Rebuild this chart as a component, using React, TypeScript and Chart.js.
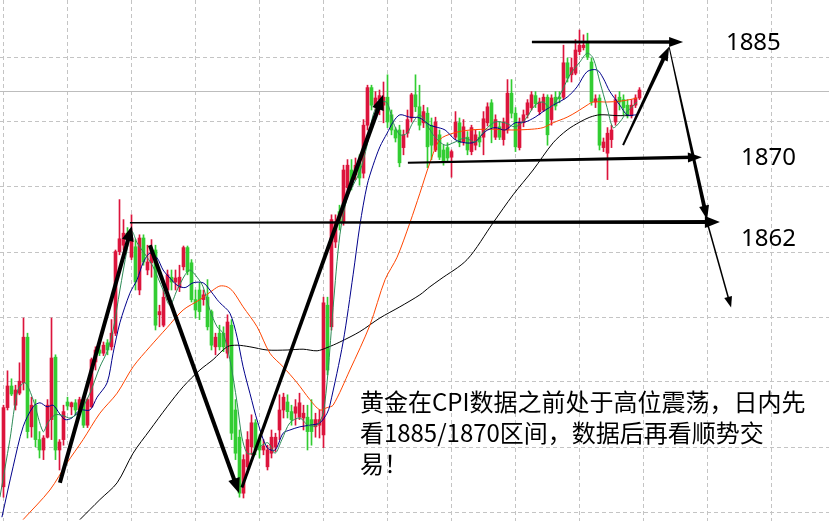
import React, { useEffect, useRef } from "react";
import { Chart, registerables } from "chart.js";

Chart.register(...registerables);

// ---- candle data (XAUUSD, price) ----
const OPEN = [
  1829.4, 1839.3, 1842.0, 1839.6, 1841.1, 1842.4, 1848.1, 1836.9, 1839.6, 1835.3,
  1834.0, 1835.6, 1837.8, 1845.6, 1834.0, 1835.3, 1840.0, 1839.4, 1839.9, 1839.0,
  1840.3, 1837.1, 1839.4, 1845.0, 1846.5, 1846.1, 1847.4, 1846.9, 1848.6, 1858.8,
  1859.6, 1861.1, 1858.1, 1859.4, 1854.0, 1860.5, 1856.5, 1857.4, 1859.0, 1850.9,
  1849.6, 1854.0, 1855.6, 1855.0, 1854.3, 1856.9, 1859.3, 1857.4, 1852.8, 1854.0,
  1852.8, 1853.1, 1851.3, 1846.9, 1848.6, 1848.6, 1846.1, 1849.6, 1839.0, 1835.6,
  1828.6, 1831.9, 1834.4, 1837.4, 1835.3, 1834.0, 1831.9, 1833.6, 1834.4, 1836.5,
  1839.0, 1840.0, 1838.8, 1838.6, 1838.1, 1838.0, 1838.1, 1837.8, 1836.9, 1837.1,
  1835.9, 1852.1, 1849.4, 1860.0, 1863.8, 1862.5, 1866.8, 1869.0, 1868.4, 1869.9,
  1868.6, 1874.6, 1879.3, 1877.1, 1877.8, 1877.1, 1878.1, 1875.9, 1874.0, 1874.0,
  1871.8, 1873.6, 1875.5, 1878.4, 1876.9, 1874.9, 1876.1, 1874.6, 1871.5, 1873.4,
  1871.5, 1871.8, 1870.6, 1873.1, 1874.9, 1872.5, 1873.1, 1871.3, 1872.1, 1873.1,
  1873.1, 1874.9, 1877.4, 1873.1, 1874.4, 1872.8, 1874.0, 1878.6, 1876.1, 1871.8,
  1874.9, 1875.9, 1876.8, 1878.3, 1876.3, 1876.5, 1878.1, 1875.3, 1878.1, 1878.1,
  1878.1, 1882.4, 1880.9, 1881.1, 1883.8, 1884.3, 1884.9, 1882.5, 1877.5, 1878.0,
  1871.8, 1871.1, 1872.8, 1875.0, 1878.1, 1877.8, 1877.1, 1875.9, 1877.1, 1878.0,
];
const HIGH = [
  1839.6, 1843.9, 1842.9, 1842.1, 1844.9, 1850.5, 1848.6, 1840.6, 1840.3, 1836.3,
  1835.8, 1840.3, 1850.5, 1845.9, 1835.3, 1839.6, 1840.6, 1840.0, 1840.3, 1840.6,
  1840.6, 1840.5, 1845.5, 1846.9, 1847.0, 1847.5, 1847.8, 1850.3, 1859.0, 1865.3,
  1862.8, 1861.8, 1863.4, 1860.3, 1860.9, 1860.9, 1859.6, 1860.3, 1859.6, 1852.1,
  1854.0, 1856.5, 1856.5, 1856.5, 1857.1, 1859.5, 1859.5, 1857.8, 1854.0, 1854.9,
  1854.0, 1855.3, 1851.5, 1848.6, 1849.6, 1849.4, 1850.9, 1850.3, 1840.3, 1836.5,
  1833.4, 1836.3, 1838.4, 1837.8, 1835.9, 1835.3, 1834.6, 1836.5, 1836.1, 1840.9,
  1841.1, 1840.9, 1839.6, 1840.3, 1841.1, 1839.6, 1839.6, 1840.3, 1838.6, 1839.0,
  1853.1, 1853.1, 1863.4, 1863.4, 1864.6, 1869.6, 1870.3, 1870.3, 1870.5, 1870.9,
  1875.3, 1879.6, 1879.6, 1878.8, 1879.0, 1880.0, 1880.9, 1876.5, 1874.3, 1874.6,
  1874.0, 1876.5, 1878.6, 1880.9, 1879.6, 1877.1, 1876.8, 1875.5, 1875.6, 1874.0,
  1872.1, 1872.4, 1871.5, 1876.3, 1875.5, 1875.3, 1873.8, 1874.6, 1874.0, 1873.8,
  1876.3, 1877.4, 1877.8, 1875.9, 1875.0, 1875.5, 1880.3, 1880.3, 1876.8, 1875.5,
  1876.5, 1877.8, 1878.8, 1878.8, 1878.0, 1878.5, 1878.4, 1878.4, 1878.8, 1878.8,
  1884.6, 1883.0, 1883.0, 1885.3, 1886.5, 1885.9, 1886.1, 1883.0, 1878.4, 1878.4,
  1873.0, 1874.3, 1874.6, 1878.4, 1878.8, 1878.4, 1877.8, 1877.8, 1878.4, 1879.3,
];
const LOW = [
  1828.1, 1839.0, 1840.8, 1839.0, 1840.9, 1841.5, 1835.5, 1835.6, 1834.4, 1833.0,
  1832.8, 1835.5, 1835.3, 1832.8, 1831.5, 1834.6, 1839.0, 1838.4, 1838.4, 1838.8,
  1836.8, 1836.8, 1839.3, 1844.0, 1845.8, 1845.8, 1845.9, 1846.5, 1848.3, 1858.4,
  1859.0, 1859.8, 1857.8, 1854.0, 1853.4, 1857.1, 1855.9, 1855.6, 1849.0, 1849.4,
  1849.4, 1852.8, 1854.0, 1854.0, 1853.8, 1856.5, 1855.9, 1852.5, 1850.5, 1850.3,
  1852.1, 1849.0, 1846.5, 1845.9, 1846.5, 1846.3, 1845.5, 1835.3, 1832.8, 1828.1,
  1828.0, 1831.5, 1833.4, 1833.4, 1833.0, 1833.4, 1831.5, 1833.0, 1833.8, 1835.3,
  1838.0, 1838.0, 1837.1, 1837.1, 1837.8, 1836.5, 1834.0, 1834.6, 1835.6, 1835.5,
  1834.3, 1843.4, 1849.0, 1859.3, 1861.5, 1862.1, 1866.3, 1866.5, 1867.8, 1867.1,
  1868.0, 1874.0, 1876.5, 1876.5, 1875.9, 1874.9, 1874.3, 1873.4, 1872.5, 1869.4,
  1870.9, 1873.1, 1875.0, 1876.3, 1874.0, 1874.3, 1869.3, 1870.3, 1871.3, 1870.3,
  1869.6, 1870.0, 1868.1, 1872.8, 1871.9, 1872.1, 1870.9, 1870.9, 1871.5, 1871.9,
  1870.9, 1874.5, 1872.4, 1872.8, 1872.8, 1872.1, 1873.6, 1875.5, 1871.3, 1871.5,
  1874.4, 1875.5, 1876.5, 1876.8, 1875.9, 1876.3, 1872.1, 1874.6, 1876.5, 1877.4,
  1877.8, 1880.0, 1880.0, 1880.9, 1883.4, 1884.0, 1882.8, 1877.1, 1876.8, 1871.5,
  1871.3, 1867.8, 1871.8, 1874.6, 1876.5, 1875.9, 1875.5, 1875.5, 1876.8, 1877.8,
];
const CLOSE = [
  1839.3, 1842.0, 1841.0, 1841.5, 1842.6, 1848.1, 1836.3, 1839.6, 1835.3, 1834.0,
  1835.5, 1839.6, 1845.5, 1834.0, 1835.0, 1838.8, 1839.5, 1839.9, 1839.0, 1840.3,
  1837.1, 1840.3, 1845.3, 1846.5, 1846.1, 1847.1, 1846.5, 1848.6, 1858.8, 1860.4,
  1861.1, 1860.3, 1860.5, 1855.0, 1860.5, 1857.5, 1857.5, 1859.0, 1849.6, 1851.3,
  1853.1, 1855.9, 1855.0, 1855.5, 1855.6, 1859.3, 1856.3, 1852.8, 1851.5, 1851.3,
  1853.4, 1849.4, 1847.1, 1848.1, 1846.9, 1846.9, 1850.0, 1836.1, 1833.6, 1828.6,
  1832.8, 1835.3, 1837.4, 1834.0, 1834.0, 1834.5, 1834.0, 1835.6, 1835.6, 1839.0,
  1840.6, 1838.8, 1837.8, 1839.4, 1839.9, 1838.6, 1836.3, 1836.3, 1837.8, 1837.8,
  1852.4, 1844.0, 1862.8, 1862.5, 1862.5, 1869.0, 1869.6, 1867.1, 1869.6, 1868.0,
  1874.6, 1879.3, 1877.1, 1878.0, 1878.3, 1878.1, 1875.0, 1874.0, 1873.0, 1869.9,
  1873.4, 1875.3, 1878.4, 1876.9, 1874.6, 1876.3, 1871.9, 1872.1, 1875.0, 1870.6,
  1870.0, 1870.5, 1871.3, 1875.0, 1872.4, 1874.4, 1871.5, 1874.3, 1873.4, 1872.5,
  1875.4, 1876.9, 1874.3, 1875.3, 1873.1, 1875.0, 1878.6, 1876.1, 1871.9, 1874.9,
  1875.9, 1877.4, 1878.4, 1877.3, 1877.5, 1878.1, 1873.4, 1878.0, 1877.0, 1877.9,
  1882.4, 1880.5, 1881.8, 1884.0, 1884.6, 1884.6, 1883.1, 1877.5, 1877.9, 1872.1,
  1872.5, 1873.6, 1874.0, 1877.8, 1877.5, 1876.8, 1875.9, 1877.1, 1878.0, 1879.0,
];

// ---- moving averages: [candle index, price] ----
const MA_FAST = [
  [-0.9, 1828.1], [1.6, 1835.3], [3.6, 1841.5], [5.4, 1842.4], [7.4, 1840.3], [9.9, 1836.3],
  [11.1, 1837.4], [12.9, 1838.4], [14.9, 1838.3], [16.6, 1838.0], [19.1, 1838.8], [21.6, 1841.1],
  [24.1, 1844.4], [25.9, 1846.3], [27.4, 1849.0], [29.1, 1854.0], [30.9, 1859.0], [32.1, 1861.3],
  [33.4, 1859.9], [34.6, 1859.0], [35.9, 1858.1], [37.4, 1856.9], [39.9, 1854.0], [41.6, 1852.1],
  [43.4, 1854.0], [45.4, 1855.9], [46.6, 1856.5], [48.4, 1855.6], [49.9, 1854.4], [51.6, 1851.5],
  [53.4, 1849.4], [54.9, 1848.6], [56.6, 1845.3], [58.4, 1839.9], [59.6, 1835.6], [60.9, 1833.6],
  [62.4, 1833.6], [64.1, 1834.4], [66.1, 1834.9], [67.9, 1833.6], [69.6, 1835.3], [71.6, 1837.4],
  [74.1, 1838.0], [76.1, 1837.1], [78.4, 1837.1], [79.9, 1838.6], [81.1, 1843.6], [82.4, 1851.8],
  [84.1, 1860.9], [85.9, 1865.5], [87.4, 1867.1], [89.1, 1868.8], [90.9, 1872.1], [92.4, 1875.9],
  [94.1, 1877.5], [95.9, 1877.4], [97.4, 1875.0], [99.1, 1873.4], [100.9, 1873.6], [102.4, 1875.0],
  [104.1, 1875.9], [105.9, 1874.6], [107.9, 1873.1], [110.4, 1872.1], [112.9, 1872.5], [115.4, 1873.0],
  [117.9, 1872.5], [120.4, 1874.0], [122.9, 1875.0], [125.4, 1874.9], [127.9, 1874.4], [130.4, 1875.3],
  [132.9, 1877.1], [134.9, 1877.5], [136.6, 1876.8], [139.1, 1878.4], [141.6, 1880.9], [144.1, 1882.5],
  [145.9, 1883.6], [147.4, 1883.0], [149.1, 1880.0], [150.9, 1876.8], [152.4, 1874.3], [154.1, 1875.0],
  [155.9, 1876.3], [158.4, 1877.5],
];
const MA_MID = [
  [-0.4, 1825.6], [2.4, 1831.9], [4.9, 1836.9], [7.4, 1839.4], [9.1, 1839.9], [10.9, 1839.4],
  [12.4, 1839.6], [14.1, 1838.5], [15.4, 1837.8], [17.1, 1838.0], [19.1, 1839.0], [21.6, 1839.0],
  [23.4, 1840.6], [25.9, 1842.4], [27.4, 1846.1], [29.1, 1849.9], [31.6, 1853.6], [33.4, 1855.3],
  [34.9, 1857.4], [36.6, 1858.6], [38.4, 1858.0], [39.9, 1856.5], [41.6, 1855.5], [43.4, 1854.6],
  [45.4, 1854.3], [47.4, 1854.9], [49.9, 1854.9], [51.6, 1854.0], [53.4, 1852.8], [54.1, 1852.4],
  [56.6, 1851.1], [58.4, 1848.1], [59.9, 1844.4], [61.6, 1841.1], [63.6, 1837.4], [65.9, 1834.3],
  [67.9, 1834.0], [69.9, 1836.1], [71.6, 1836.5], [74.1, 1836.9], [76.6, 1837.1], [79.1, 1837.4],
  [80.9, 1838.6], [81.6, 1839.6], [84.9, 1847.5], [87.4, 1855.9], [89.1, 1862.1], [90.9, 1867.1],
  [92.4, 1869.6], [94.1, 1871.9], [95.9, 1873.6], [97.4, 1875.0], [99.1, 1875.9], [101.6, 1875.6],
  [104.1, 1875.5], [106.6, 1874.6], [107.9, 1874.4], [110.4, 1874.0], [112.9, 1872.8], [115.4, 1872.4],
  [117.9, 1872.5], [120.4, 1873.8], [122.9, 1874.3], [125.4, 1874.0], [127.9, 1874.9], [130.4, 1875.0],
  [132.9, 1875.6], [134.9, 1876.3], [137.4, 1877.1], [140.9, 1878.1], [143.4, 1879.4], [145.9, 1881.3],
  [148.4, 1881.5], [149.9, 1880.5], [151.6, 1878.8], [154.1, 1877.1], [155.9, 1875.9], [158.4, 1875.9],
];
const MA_SLOW = [
  [4.9, 1825.3], [11.6, 1829.0], [15.9, 1832.4], [19.9, 1835.3], [24.1, 1838.6], [28.4, 1841.1],
  [32.4, 1844.4], [36.6, 1846.9], [40.9, 1849.3], [44.9, 1851.5], [49.1, 1852.8], [52.4, 1854.0],
  [54.1, 1854.5], [55.9, 1854.4], [57.4, 1853.8], [59.9, 1851.9], [63.4, 1849.4], [66.6, 1846.1],
  [69.9, 1844.4], [73.4, 1842.4], [76.6, 1840.3], [79.1, 1839.0], [80.9, 1839.3], [82.4, 1839.6],
  [86.6, 1844.0], [91.6, 1849.6], [95.4, 1855.3], [98.4, 1858.1], [101.6, 1862.4], [104.1, 1866.1],
  [106.6, 1869.9], [109.1, 1872.8], [112.4, 1873.6], [116.6, 1874.0], [122.1, 1874.1], [127.1, 1874.0],
  [132.1, 1874.1], [134.9, 1874.3], [137.4, 1874.9], [140.9, 1875.6], [143.4, 1876.3], [145.9, 1877.1],
  [147.4, 1877.5], [150.9, 1877.5], [154.1, 1877.6], [156.6, 1877.8], [158.4, 1878.0],
];
const MA_LONG = [
  [19.1, 1825.3], [24.1, 1827.8], [28.4, 1829.9], [32.4, 1833.6], [36.6, 1836.5], [40.9, 1839.4],
  [44.9, 1841.9], [49.1, 1844.0], [52.4, 1845.3], [55.9, 1846.9], [58.4, 1847.1], [61.6, 1846.9],
  [65.9, 1846.5], [70.9, 1846.5], [74.9, 1846.6], [78.4, 1846.4], [80.9, 1846.8], [84.1, 1847.5],
  [89.1, 1848.8], [94.1, 1850.5], [99.1, 1851.9], [104.1, 1853.4], [106.6, 1854.4], [109.1, 1855.3],
  [115.9, 1857.8], [122.4, 1862.4], [127.4, 1865.9], [132.4, 1869.0], [137.4, 1872.4], [140.9, 1874.0],
  [144.1, 1875.0], [146.6, 1875.6], [149.1, 1875.9], [153.4, 1875.8], [157.4, 1875.8],
];

// current price line and grid levels
const PRICE_LINE = 1878.8;
const GRID_X = [0, 16, 32, 48, 64, 80, 96, 112, 128, 144, 160, 176, 192];
const GRID_Y = [1826.25, 1834.375, 1842.5, 1850.625, 1858.75, 1866.875, 1875, 1883.125];

// hand-drawn arrows: [x1, price1, x2, price2, startWidth, endWidth, headLen, headHalf]
const ARROWS = [
  [14.1, 1829.9, 32.1, 1862.0, 4, 4, 15, 6],
  [31.6, 1862.4, 179.1, 1862.5, 1.5, 4, 15, 6],
  [36.6, 1859.6, 58.9, 1828.6, 4, 4, 15, 6],
  [59.6, 1829.3, 94.9, 1878.4, 3, 4.5, 15, 6],
  [132.1, 1885.0, 169.9, 1885.0, 2.5, 3.5, 14, 5],
  [101.1, 1869.9, 174.6, 1870.6, 2, 3.5, 14, 5],
  [154.9, 1872.1, 166.4, 1884.4, 2, 4, 14, 5],
  [166.4, 1884.4, 175.9, 1862.8, 1, 4, 14, 5],
  [175.9, 1862.5, 181.9, 1851.8, 1.5, 1.5, 11, 4],
];

const LEVEL_LABELS = [
  { text: "1885", x: 180.6, y: 1884.9 },
  { text: "1870", x: 184.4, y: 1870.5 },
  { text: "1862", x: 184.4, y: 1860.4 },
];
const NOTE_LINES = [
  "黄金在CPI数据之前处于高位震荡，日内先",
  "看1885/1870区间，数据后再看顺势交",
  "易！",
];
const NOTE_ANCHOR = { x: 89.1, y: 1840.0 };

const X_MIN = -0.875;
const X_MAX = 206.375;
const Y_MIN = 1825.125;
const Y_MAX = 1890.25;

const UP = "#DC143C";
const DOWN = "#32CD32";

function drawArrow(ctx: CanvasRenderingContext2D, x1: number, y1: number, x2: number, y2: number,
  w1: number, w2: number, headLen: number, headHalf: number) {
  const dx = x2 - x1, dy = y2 - y1;
  const len = Math.hypot(dx, dy);
  const ux = dx / len, uy = dy / len;
  const nx = -uy, ny = ux;
  const ex = x2 - ux * headLen * 0.6, ey = y2 - uy * headLen * 0.6;
  ctx.beginPath();
  ctx.moveTo(x1 + nx * w1 / 2, y1 + ny * w1 / 2);
  ctx.lineTo(ex + nx * w2 / 2, ey + ny * w2 / 2);
  ctx.lineTo(ex - nx * w2 / 2, ey - ny * w2 / 2);
  ctx.lineTo(x1 - nx * w1 / 2, y1 - ny * w1 / 2);
  ctx.closePath();
  ctx.fill();
  const bx = x2 - ux * headLen, by = y2 - uy * headLen;
  ctx.beginPath();
  ctx.moveTo(x2, y2);
  ctx.lineTo(bx + nx * headHalf, by + ny * headHalf);
  ctx.lineTo(bx - nx * headHalf, by - ny * headHalf);
  ctx.closePath();
  ctx.fill();
}

const overlayPlugin = {
  id: "overlay",
  beforeDatasetsDraw(chart: any) {
    const { ctx, chartArea: a, scales } = chart;
    const xs = scales.x, ys = scales.y;
    ctx.save();
    ctx.lineWidth = 1;
    ctx.strokeStyle = "#c4c4c4";
    ctx.setLineDash([4, 3]);
    GRID_X.forEach((v) => {
      const px = Math.floor(xs.getPixelForValue(v)) + 0.5;
      ctx.beginPath();
      ctx.moveTo(px, a.top);
      ctx.lineTo(px, a.bottom);
      ctx.stroke();
    });
    GRID_Y.forEach((v) => {
      const py = Math.floor(ys.getPixelForValue(v)) + 0.5;
      ctx.beginPath();
      ctx.moveTo(a.left, py);
      ctx.lineTo(a.right, py);
      ctx.stroke();
    });
    ctx.setLineDash([]);
    ctx.strokeStyle = "#bdbdbd";
    const pl = Math.floor(ys.getPixelForValue(PRICE_LINE)) + 0.5;
    ctx.beginPath();
    ctx.moveTo(a.left, pl);
    ctx.lineTo(a.right, pl);
    ctx.stroke();
    ctx.restore();
  },
  afterDatasetsDraw(chart: any) {
    const { ctx, scales } = chart;
    const xs = scales.x, ys = scales.y;
    ctx.save();
    ctx.fillStyle = "#000";
    ARROWS.forEach((r) => {
      drawArrow(ctx,
        xs.getPixelForValue(r[0]), ys.getPixelForValue(r[1]),
        xs.getPixelForValue(r[2]), ys.getPixelForValue(r[3]),
        r[4], r[5], r[6], r[7]);
    });
    ctx.textAlign = "left";
    ctx.textBaseline = "middle";
    ctx.font = '24px "Noto Sans", "DejaVu Sans", sans-serif';
    LEVEL_LABELS.forEach((l) => {
      ctx.fillText(l.text, xs.getPixelForValue(l.x), ys.getPixelForValue(l.y));
    });
    ctx.font = '24px "Noto Sans CJK SC", "Noto Sans", sans-serif';
    const nx = xs.getPixelForValue(NOTE_ANCHOR.x);
    const ny = ys.getPixelForValue(NOTE_ANCHOR.y);
    NOTE_LINES.forEach((line, k) => {
      ctx.fillText(line, nx, ny + k * 31);
    });
    ctx.restore();
  },
};

export default function App() {
  const canvasRef = useRef<HTMLCanvasElement | null>(null);

  useEffect(() => {
    const canvas = canvasRef.current;
    if (!canvas) return;
    const colors = CLOSE.map((c, i) => (c >= OPEN[i] ? UP : DOWN));
    const wicks = CLOSE.map((_, i) => ({ x: i, y: [LOW[i], HIGH[i]] }));
    const bodies = CLOSE.map((c, i) => ({ x: i, y: [OPEN[i], c] }));
    const maLine = (data: number[][], color: string) => ({
      type: "line" as const,
      data: data.map((p) => ({ x: p[0], y: p[1] })),
      borderColor: color,
      borderWidth: 1,
      pointRadius: 0,
      tension: 0.3,
      fill: false,
      order: 0,
    });
    const chart = new Chart(canvas, {
      type: "bar",
      data: {
        datasets: [
          maLine(MA_FAST, "#2E8B57"),
          maLine(MA_MID, "#00008B"),
          maLine(MA_SLOW, "#FF4500"),
          maLine(MA_LONG, "#000000"),
          {
            type: "bar",
            data: bodies as any,
            backgroundColor: colors,
            borderWidth: 0,
            barThickness: 3,
            minBarLength: 1,
            grouped: false,
            order: 1,
          } as any,
          {
            type: "bar",
            data: wicks as any,
            backgroundColor: colors,
            borderWidth: 0,
            barThickness: 1,
            grouped: false,
            order: 2,
          } as any,
        ],
      },
      options: {
        animation: false,
        responsive: false,
        events: [],
        layout: { padding: 0 },
        plugins: { legend: { display: false }, tooltip: { enabled: false } },
        scales: {
          x: { type: "linear", min: X_MIN, max: X_MAX, offset: false, display: false },
          y: { type: "linear", min: Y_MIN, max: Y_MAX, display: false },
        },
      },
      plugins: [overlayPlugin],
    });
    return () => chart.destroy();
  }, []);

  return (
    <div style={{ position: "fixed", left: 0, top: 0, width: 829, height: 521, background: "#fff" }}>
      <canvas ref={canvasRef} width={829} height={521} style={{ display: "block" }} />
    </div>
  );
}
